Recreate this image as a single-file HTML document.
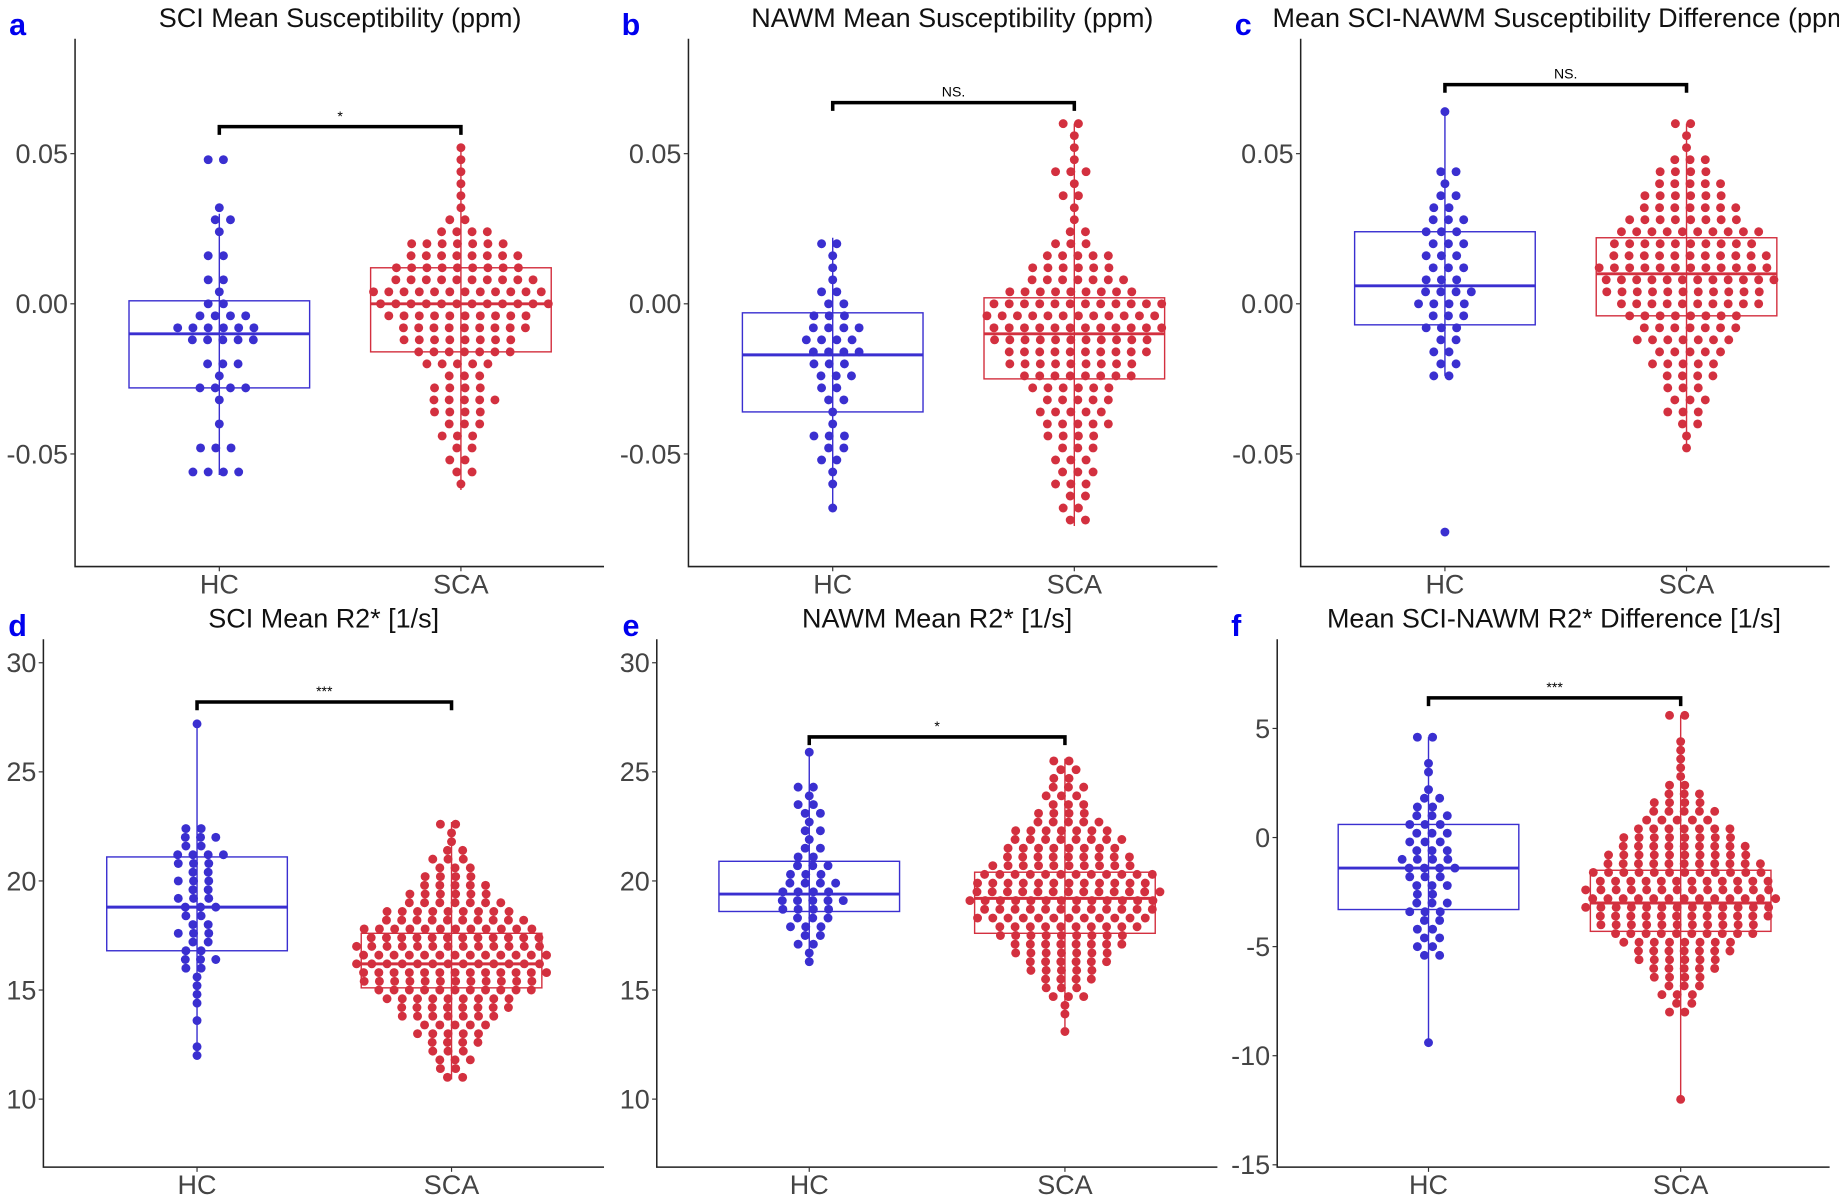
<!DOCTYPE html>
<html><head><meta charset="utf-8"><style>
html,body{margin:0;padding:0;background:#fff;}
svg{display:block;font-family:"Liberation Sans",sans-serif;}
</style></head><body>
<svg id="fig" width="1839" height="1200" viewBox="0 0 1568 1023" preserveAspectRatio="none"></svg>
<script>
// ----- data -----
const categories = ["HC", "SCA"];
const panelLetters = ["a","b","c","d","e","f"];
const panelTitles = ["SCI Mean Susceptibility (ppm)","NAWM Mean Susceptibility (ppm)","Mean SCI-NAWM Susceptibility Difference  (ppm)","SCI Mean R2* [1/s]","NAWM Mean R2* [1/s]","Mean SCI-NAWM R2* Difference [1/s]"];
const tickSus = [0.05, 0.00, -0.05];
const tickSusLabels = ["0.05","0.00","-0.05"];
const tickR2 = [30,25,20,15,10];
const tickR2Labels = ["30","25","20","15","10"];
const tickDiff = [5,0,-5,-10,-15];
const tickDiffLabels = ["5","0","-5","-10","-15"];
// box stats: [whiskerLow, q1, median, q3, whiskerHigh]
const boxHC = [[-0.057,-0.028,-0.010,0.001,0.030],[-0.068,-0.036,-0.017,-0.003,0.022],[-0.024,-0.007,0.006,0.024,0.065],[11.9,16.8,18.8,21.1,27.3],[16.2,18.6,19.4,20.9,26.0],[-9.6,-3.3,-1.4,0.6,4.6]];
const boxSCA = [[-0.062,-0.016,0.000,0.012,0.053],[-0.074,-0.025,-0.010,0.002,0.060],[-0.048,-0.004,0.010,0.022,0.060],[10.9,15.1,16.2,17.6,22.7],[13.3,17.6,19.2,20.4,25.6],[-12.0,-4.3,-3.0,-1.5,5.6]];
const bracketY = [0.059,0.067,0.073,28.2,26.6,6.4];
const bracketLabels = ["*","NS.","NS.","***","*","***"];
// swarm bins: start value, step, counts (top to bottom)
const binStartHC = [0.048,0.020,0.064,27.2,25.9,4.6];
const binStartSCA = [0.052,0.060,0.060,22.6,25.5,5.6];
const binStep = [0.004,0.004,0.004,0.4,0.4,0.4];
const countsHC = [
 [2,0,0,0,1,2,1,0,2,0,2,1,2,4,6,5,0,3,1,4,1,0,1,0,3,0,4],
 [2,1,1,1,2,2,3,4,4,4,3,3,2,2,1,1,3,2,2,1,1,0,1],
 [1,0,0,0,0,2,1,2,2,3,3,3,3,3,3,4,4,3,3,2,2,2,2,0,0,0,0,0,0,0,0,0,0,0,0,1],
 [1,0,0,0,0,0,0,0,0,0,0,0,2,3,2,4,3,2,3,2,3,3,2,2,3,2,2,3,2,1,1,1,1,0,1,0,0,1,1],
 [1,0,0,0,2,1,2,2,1,2,1,2,2,3,3,4,4,5,4,3,3,2,2,1,1],
 [2,0,0,1,1,0,1,2,2,3,3,3,3,3,4,4,3,3,2,3,3,2,2,2,2,2,0,0,0,0,0,0,0,0,0,1]
];
const countsSCA = [
 [1,1,1,1,1,1,2,4,7,8,9,10,12,12,10,9,8,7,5,3,4,5,4,3,3,2,2,2,1],
 [2,1,1,1,3,1,2,1,1,2,3,5,6,7,9,12,12,12,11,10,9,8,6,5,5,5,4,3,3,3,3,2,2,2],
 [2,1,1,3,4,5,6,7,8,10,10,11,12,12,11,10,8,7,7,5,5,4,3,3,3,2,1,1],
 [2,1,1,2,3,3,4,5,6,7,9,10,12,12,13,13,13,13,12,11,9,8,7,5,5,4,3,3,2,2],
 [2,2,2,3,3,3,4,5,7,8,8,9,10,12,12,13,13,12,12,10,9,8,7,6,5,4,3,3,1,1,0,1],
 [2,0,0,1,1,1,1,1,2,3,4,5,5,7,8,9,10,11,12,12,13,13,13,12,11,10,8,7,6,5,4,3,3,2,2,0,0,0,0,0,0,0,0,0,1]
];
// ----- layout -----
const NS="http://www.w3.org/2000/svg";
const svg=document.getElementById('fig');
function mk(tag,attrs,parent){const e=document.createElementNS(NS,tag);for(const k in attrs)e.setAttribute(k,attrs[k]);(parent||svg).appendChild(e);return e;}
const panels=[
 {ax:64,right:515,top:33,bot:483,hc:187,sca:393,v0:0,p0:259,ppu:2560,ticks:tickSus,tl:tickSusLabels,lx:15,ly:30,tx:290},
 {ax:587,right:1038,top:33,bot:483,hc:710,sca:916,v0:0,p0:259,ppu:2560,ticks:tickSus,tl:tickSusLabels,lx:538,ly:30,tx:812},
 {ax:1109,right:1560,top:33,bot:483,hc:1232,sca:1438,v0:0,p0:259,ppu:2560,ticks:tickSus,tl:tickSusLabels,lx:1060,ly:30,tx:1085,anchor:'start'},
 {ax:37,right:515,top:545,bot:995,hc:168,sca:385,v0:20,p0:751,ppu:18.6,ticks:tickR2,tl:tickR2Labels,lx:15,ly:542,tx:276},
 {ax:560,right:1038,top:545,bot:995,hc:690,sca:908,v0:20,p0:751,ppu:18.6,ticks:tickR2,tl:tickR2Labels,lx:538,ly:542,tx:799},
 {ax:1089,right:1560,top:545,bot:995,hc:1218,sca:1433,v0:0,p0:714,ppu:18.6,ticks:tickDiff,tl:tickDiffLabels,lx:1054,ly:542,tx:1325}
];
const colHC="#3a2fd0", colSCA="#d3303f";
panels.forEach((P,i)=>{
 const g=mk('g',{});
 
 
 const y=v=>P.p0-(v-P.v0)*P.ppu;
 const lt=mk('text',{x:P.lx,y:P.ly,'font-size':26,'font-weight':'bold',fill:'#0000ee','text-anchor':'middle'},g);lt.textContent=panelLetters[i];
 
 const tt=mk('text',{x:P.tx,y:P.top-10,'font-size':23,fill:'#111','text-anchor':P.anchor||'middle'},g);tt.textContent=panelTitles[i];
 
 const axl=mk('path',{d:`M${P.ax} ${P.top}V${P.bot}H${P.right}`,stroke:'#222',fill:'none','stroke-width':1.3},g);
 
 P.ticks.forEach((t,k)=>{
  const yy=y(t);
  mk('line',{x1:P.ax-4,x2:P.ax,y1:yy,y2:yy,stroke:'#333'},g);
  const tx=mk('text',{x:P.ax-6,y:yy+8,'font-size':23,fill:'#444','text-anchor':'end'},g);tx.textContent=P.tl[k];
  
 });
 [P.hc,P.sca].forEach((cx,k)=>{
  mk('line',{x1:cx,x2:cx,y1:P.bot,y2:P.bot+4,stroke:'#333'},g);
  const tx=mk('text',{x:cx,y:P.bot+23,'font-size':23,fill:'#444','text-anchor':'middle'},g);tx.textContent=categories[k];
  
 });
 [[P.hc,boxHC[i],colHC,countsHC[i],binStartHC[i],'hc'],[P.sca,boxSCA[i],colSCA,countsSCA[i],binStartSCA[i],'sca']].forEach(([cx,b,col,cnt,start,nm])=>{
  const hw=77;
  const wl=mk('line',{x1:cx,x2:cx,y1:y(b[0]),y2:y(b[4]),stroke:col,'stroke-width':1.2},g);
  
  const r=mk('rect',{x:cx-hw,y:y(b[3]),width:2*hw,height:y(b[1])-y(b[3]),fill:'none',stroke:col,'stroke-width':1.2},g);
  
  const m=mk('line',{x1:cx-hw,x2:cx+hw,y1:y(b[2]),y2:y(b[2]),stroke:col,'stroke-width':2.5},g);
  
  cnt.forEach((n,j)=>{
   const v=start-j*binStep[i];
   const yy=y(v);
   for(let q=0;q<n;q++){
    const dx=(q-(n-1)/2)*13+((j%2)?3:-3)*(n>1?1:0);
    const c=mk('circle',{cx:cx+dx,cy:yy,r:3.8,fill:col},g);
    
    
   }
  });
 });
 const by=y(bracketY[i]);
 const br=mk('path',{d:`M${P.hc} ${by+7}V${by}H${P.sca}V${by+7}`,stroke:'#000','stroke-width':3,fill:'none'},g);
 
 const bl=mk('text',{x:(P.hc+P.sca)/2,y:by-5,'font-size':12,fill:'#000','text-anchor':'middle'},g);bl.textContent=bracketLabels[i];
 
});
</script>
</body></html>
